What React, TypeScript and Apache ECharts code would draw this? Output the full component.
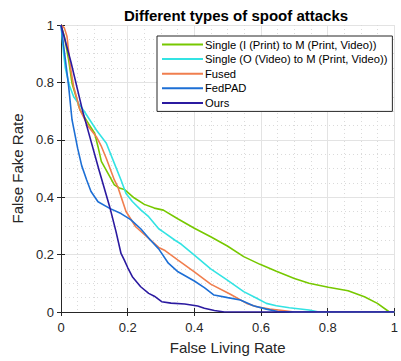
import React, { useEffect, useRef } from "react";
import * as echarts from "echarts";

const seriesNames = [
  "Single (I (Print) to M (Print, Video))",
  "Single (O (Video) to M (Print, Video))",
  "Fused",
  "FedPAD",
  "Ours",
];

const singleI: number[][] = [
  [0, 1], [0.01, 0.96], [0.023, 0.878], [0.033, 0.797], [0.057, 0.704], [0.082, 0.657],
  [0.101, 0.623], [0.111, 0.576], [0.121, 0.525], [0.141, 0.483], [0.16, 0.443],
  [0.175, 0.432], [0.19, 0.427], [0.219, 0.398], [0.25, 0.375], [0.28, 0.362],
  [0.307, 0.355], [0.35, 0.325], [0.4, 0.292], [0.449, 0.262], [0.499, 0.23],
  [0.548, 0.193], [0.597, 0.166], [0.646, 0.142], [0.7, 0.117], [0.744, 0.1],
  [0.802, 0.086], [0.861, 0.074], [0.91, 0.053], [0.949, 0.03], [0.985, 0], [1, 0],
];

const singleO: number[][] = [
  [0, 1], [0.004, 0.95], [0.008, 0.9], [0.013, 0.85], [0.025, 0.79], [0.038, 0.75],
  [0.067, 0.704], [0.106, 0.634], [0.136, 0.588], [0.16, 0.518], [0.18, 0.46],
  [0.195, 0.413], [0.214, 0.385], [0.24, 0.355], [0.263, 0.332], [0.293, 0.29],
  [0.312, 0.275], [0.342, 0.25], [0.361, 0.236], [0.4, 0.198], [0.449, 0.15],
  [0.499, 0.111], [0.548, 0.071], [0.587, 0.048], [0.616, 0.03], [0.646, 0.022],
  [0.685, 0.015], [0.744, 0.007], [0.77, 0.001], [1, 0],
];

const fused: number[][] = [
  [0, 1], [0.01, 0.99], [0.018, 0.96], [0.028, 0.855], [0.038, 0.785], [0.057, 0.704],
  [0.082, 0.646], [0.106, 0.611], [0.12, 0.58], [0.136, 0.535], [0.16, 0.46],
  [0.17, 0.437], [0.195, 0.35], [0.224, 0.297], [0.25, 0.27], [0.268, 0.251],
  [0.293, 0.225], [0.312, 0.214], [0.351, 0.181], [0.4, 0.14], [0.449, 0.097],
  [0.508, 0.062], [0.557, 0.03], [0.587, 0.018], [0.626, 0.01], [0.665, 0.005],
  [0.7, 0], [1, 0],
];

const fedPAD: number[][] = [
  [0, 1], [0.013, 0.88], [0.023, 0.785], [0.033, 0.67], [0.05, 0.57], [0.062, 0.51],
  [0.077, 0.46], [0.09, 0.42], [0.111, 0.384], [0.146, 0.361], [0.18, 0.343],
  [0.209, 0.322], [0.239, 0.29], [0.268, 0.251], [0.293, 0.22], [0.322, 0.17],
  [0.351, 0.14], [0.4, 0.108], [0.43, 0.085], [0.459, 0.059], [0.5, 0.05],
  [0.538, 0.042], [0.577, 0.022], [0.616, 0.01], [0.65, 0.002], [0.7, 0], [1, 0],
];

const ours: number[][] = [
  [0, 1], [0.03, 0.87], [0.065, 0.7], [0.114, 0.495], [0.146, 0.367], [0.165, 0.28],
  [0.18, 0.204], [0.19, 0.181], [0.2, 0.155], [0.214, 0.123], [0.239, 0.088],
  [0.263, 0.065], [0.28, 0.055], [0.302, 0.036], [0.33, 0.031], [0.371, 0.028],
  [0.41, 0.021], [0.43, 0.013], [0.46, 0.005], [0.49, 0], [1, 0],
];

const seriesData = [singleI, singleO, fused, fedPAD, ours];
const colors = ["#77c800", "#33e3e3", "#f07e4e", "#1d6fd5", "#2b1aa0"];

const FONT = "'Liberation Sans', Arial, Helvetica, sans-serif";
const AX = "#262626";

export default function App() {
  const ref = useRef<HTMLDivElement>(null);
  useEffect(() => {
    if (!ref.current) return;
    const chart = echarts.init(ref.current, undefined, { renderer: "svg" });
    const hiddenAxis = {
      type: "value" as const,
      min: 0,
      max: 1,
      interval: 0.2,
      axisLine: { show: true, lineStyle: { color: AX, width: 1 } },
      axisTick: { show: true, inside: true, length: 4, lineStyle: { color: AX } },
      axisLabel: { show: false },
      splitLine: { show: false },
    };
    chart.setOption({
      animation: false,
      backgroundColor: "#ffffff",
      textStyle: { fontFamily: FONT },
      title: {
        text: "Different types of spoof attacks",
        left: 231,
        textAlign: "center",
        top: 3,
        textStyle: { fontFamily: FONT, fontSize: 15, fontWeight: "bold", color: "#000" },
      },
      grid: { left: 61, right: 1, top: 25, bottom: 49 },
      legend: {
        orient: "vertical",
        left: 157,
        top: 36,
        backgroundColor: "#ffffff",
        borderColor: AX,
        borderWidth: 1,
        borderRadius: 0,
        padding: [2, 5, 2, 5],
        icon: "rect",
        itemWidth: 41,
        itemHeight: 2,
        itemGap: 1.6,
        textStyle: { fontFamily: FONT, fontSize: 11.2, color: "#000", padding: [0, 0, 0, -3], lineHeight: 13 },
        data: seriesNames,
      },
      xAxis: [
        {
          type: "value",
          min: 0,
          max: 1,
          interval: 0.2,
          name: "False Living Rate",
          nameLocation: "middle",
          nameGap: 27.5,
          nameTextStyle: { fontFamily: FONT, fontSize: 15, color: AX },
          axisLine: { show: true, onZero: false, lineStyle: { color: AX, width: 1 } },
          axisTick: { show: true, inside: true, length: 4, lineStyle: { color: AX } },
          axisLabel: { fontFamily: FONT, fontSize: 13, color: AX, margin: 9, formatter: (v: number) => `${+v.toFixed(1)}` },
          splitLine: { show: true, lineStyle: { color: "#e3e3e3", width: 1 } },
          minorTick: { show: false, splitNumber: 4 },
          minorSplitLine: { show: true, lineStyle: { color: "#dadada", type: [1, 3], width: 1 } },
        },
        { ...hiddenAxis, position: "top" },
      ],
      yAxis: [
        {
          type: "value",
          min: 0,
          max: 1,
          interval: 0.2,
          name: "False Fake Rate",
          nameLocation: "middle",
          nameGap: 29.5,
          nameTextStyle: { fontFamily: FONT, fontSize: 15, color: AX },
          axisLine: { show: true, onZero: false, lineStyle: { color: AX, width: 1 } },
          axisTick: { show: true, inside: true, length: 4, lineStyle: { color: AX } },
          axisLabel: { fontFamily: FONT, fontSize: 13, color: AX, margin: 7, formatter: (v: number) => `${+v.toFixed(1)}` },
          splitLine: { show: true, lineStyle: { color: "#e3e3e3", width: 1 } },
          minorTick: { show: false, splitNumber: 4 },
          minorSplitLine: { show: true, lineStyle: { color: "#dadada", type: [1, 3], width: 1 } },
        },
        { ...hiddenAxis, position: "right" },
      ],
      series: seriesData.map((d, i) => ({
        name: seriesNames[i],
        type: "line",
        data: d,
        symbol: "none",
        showSymbol: false,
        smooth: false,
        color: colors[i],
        lineStyle: { color: colors[i], width: 1.6 },
        z: 3 + i,
      })),
    });
    return () => chart.dispose();
  }, []);
  return <div ref={ref} style={{ width: 401, height: 361, position: "absolute", left: 0, top: 0 }} />;
}
